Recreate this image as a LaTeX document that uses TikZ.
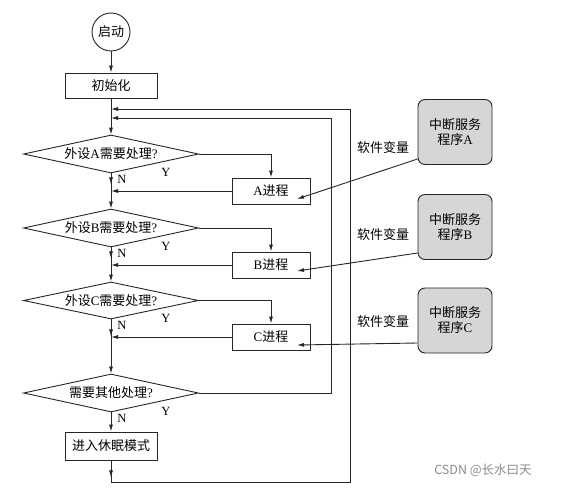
\documentclass[tikz,border=0pt]{standalone}
\usepackage{fontspec}
\setmainfont{Liberation Serif}
\newfontfamily\cjk{Noto Sans CJK SC}
\usetikzlibrary{shapes.geometric,arrows.meta,calc}
\begin{document}
\begin{tikzpicture}[x=1pt,y=-1pt,
  every node/.style={font=\fontsize{13}{15}\selectfont, text=black},
  ln/.style={draw=black!85, line width=0.9pt},
  arr/.style={ln, -{Latex[length=7pt,width=4pt]}},
  procbox/.style={draw=black!85, line width=0.9pt, rectangle, minimum width=92pt, minimum height=26pt, inner sep=0pt},
  subbox/.style={draw=black!85, line width=0.9pt, rectangle, minimum width=78pt, minimum height=26pt, inner sep=0pt},
  decision/.style={draw=black!85, line width=0.9pt, diamond, aspect=4.6, minimum width=175pt, minimum height=38pt, inner sep=0pt},
  isr/.style={draw=black!85, line width=0.9pt, rectangle, rounded corners=7pt, fill=black!16, minimum width=74pt, minimum height=65pt, align=center, inner sep=0pt},
  yn/.style={font=\fontsize{12.5}{14}\selectfont},
  varlabel/.style={font=\fontsize{13}{15}\selectfont\cjk}
]
\useasboundingbox (0,0) rectangle (567,492);
\fill[white] (0,0) rectangle (567,492);

% main column
\node[draw=black!85, line width=0.9pt, circle, minimum size=38pt, inner sep=0pt] (start) at (111,32) {\cjk 启动};
\node[procbox, minimum height=25pt] (init) at (111,85.5) {\cjk 初始化};
\node[decision] (dA) at (111,154) {{\cjk 外设}A{\cjk 需要处理}?};
\node[decision] (dB) at (111,228) {{\cjk 外设}B{\cjk 需要处理}?};
\node[decision, minimum height=37pt] (dC) at (111,300.5) {{\cjk 外设}C{\cjk 需要处理}?};
\node[decision] (dD) at (111,393) {{\cjk 需要其他处理}?};
\node[procbox, minimum height=28pt] (sleep) at (111,446) {\cjk 进入休眠模式};

% process boxes
\node[subbox] (pA) at (271,191) {A{\cjk 进程}};
\node[subbox] (pB) at (271,265) {B{\cjk 进程}};
\node[subbox] (pC) at (271,337) {C{\cjk 进程}};

% ISR boxes
\node[isr] (iA) at (455,132) {{\cjk 中断服务}\\{\cjk 程序}A};
\node[isr] (iB) at (455,227) {{\cjk 中断服务}\\{\cjk 程序}B};
\node[isr] (iC) at (455,320.5) {{\cjk 中断服务}\\{\cjk 程序}C};

% labels
\node[varlabel] (vA) at (383,148) {软件变量};
\node[varlabel] (vB) at (383,235) {软件变量};
\node[varlabel] (vC) at (383,322) {软件变量};

\foreach \d in {dA,dB,dC,dD}{
  \node[yn] (\d N) at ($(\d.south)+(11,6)$) {N};
  \node[yn] (\d Y) at ($(\d.south)+(55,-1)$) {Y};
}

% coordinates
\coordinate (jA) at (111,191);
\coordinate (jB) at (111,265);
\coordinate (jC) at (111,337);
\coordinate (outerTop) at (111,109);
\coordinate (innerTop) at (111,118);
\coordinate (outerTR) at (350,109);
\coordinate (outerBR) at (350,482);
\coordinate (outerBL) at (111,482);
\coordinate (innerTR) at (331,118);
\coordinate (innerBR) at (331,393);

% main flow
\draw[arr] (start) -- (init);
\draw[arr] (init) -- (dA);
\draw[arr] (dA.south) -- ++(0,11);
\draw[ln] (dA.south) -- (jA);
\draw[arr] (jA) -- (dB.north);
\draw[arr] (dB.south) -- ++(0,11);
\draw[ln] (dB.south) -- (jB);
\draw[arr] (jB) -- (dC.north);
\draw[arr] (dC.south) -- ++(0,17);
\draw[ln] (dC.south) -- (jC);
\draw[arr] (jC) -- (dD.north);
\draw[arr] (dD.south) -- (sleep.north);
\draw[arr] (sleep.south) -- ++(0,17);

% Y branches
\draw[arr] (dA.east) -| (pA.north);
\draw[arr] (dB.east) -| (pB.north);
\draw[arr] (dC.east) -| (pC.north);
\draw[arr] (pA.west) -- (jA);
\draw[arr] (pB.west) -- (jB);
\draw[arr] (pC.west) -- (jC);

% loops
\draw[ln] (sleep.south) -- (outerBL) -- (outerBR) -- (outerTR);
\draw[arr] (outerTR) -- (outerTop);
\draw[ln] (dD.east) -- (innerBR) -- (innerTR);
\draw[arr] (innerTR) -- (innerTop);

% ISR to process
\draw[arr] ($(iA.west)+(0,27)$) -- ($(pA.center)+(26,8)$);
\draw[arr] ($(iB.west)+(0,26)$) -- ($(pB.center)+(26,6)$);
\draw[arr] ($(iC.west)+(0,22.5)$) -- ($(pC.center)+(26,8)$);

% watermark
\node[font=\fontsize{12.5}{14}\selectfont\cjk, text=black!45] (wm) at (483,470) {CSDN @长水曰天};
\end{tikzpicture}
\end{document}
